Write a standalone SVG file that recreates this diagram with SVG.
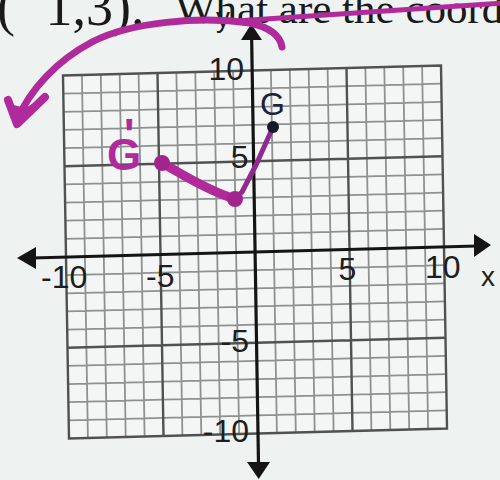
<svg xmlns="http://www.w3.org/2000/svg" width="500" height="480" viewBox="0 0 500 480">
  <style>
    .minor { fill: none; stroke: #8e9190; stroke-width: 1.8; vector-effect: non-scaling-stroke; }
    .major { fill: none; stroke: #505252; stroke-width: 2.4; vector-effect: non-scaling-stroke; }
    .axis { fill: none; stroke: #141414; stroke-width: 3.2; }
    .head { fill: #141414; }
    .num { font-family: "Liberation Sans", Arial, sans-serif; font-size: 32px; fill: #1e1e1e; }
    .var { font-family: "Liberation Sans", Arial, sans-serif; font-size: 28px; fill: #1e1e1e; }
    .ink { fill: none; stroke: #b02a9c; stroke-linecap: round; stroke-linejoin: round; }
    .serif { font-family: "Liberation Serif", "Times New Roman", serif; fill: #1a1a1a; }
  </style>
  <rect width="500" height="480" fill="#eef2f1"/>

  <g id="heading">
    <text class="serif" x="-3" y="25" font-size="54">(<tspan dy="-11">−</tspan><tspan dy="11">1,3).</tspan></text>
    <text class="serif" x="175" y="23" font-size="43">What are the coord</text>
  </g>

  <g id="grid" transform="matrix(18.9 -0.5 0.3 18.15 255 252)">
    <rect x="-10" y="-10" width="20" height="20" fill="#f3f6f5"/>
    <path class="minor" d="M-9 -10V10M-8 -10V10M-7 -10V10M-6 -10V10M-4 -10V10M-3 -10V10M-2 -10V10M-1 -10V10M1 -10V10M2 -10V10M3 -10V10M4 -10V10M6 -10V10M7 -10V10M8 -10V10M9 -10V10M-10 -9H10M-10 -8H10M-10 -7H10M-10 -6H10M-10 -4H10M-10 -3H10M-10 -2H10M-10 -1H10M-10 1H10M-10 2H10M-10 3H10M-10 4H10M-10 6H10M-10 7H10M-10 8H10M-10 9H10"/>
    <path class="major" d="M-5 -10V10M5 -10V10M-10 -5H10M-10 5H10"/>
    <rect class="major" x="-10" y="-10" width="20" height="20"/>
  </g>

  <g id="axes">
    <line class="axis" x1="251.6" y1="36" x2="258.5" y2="464"/>
    <polygon class="head" points="251.3,24 241,40 262,40"/>
    <polygon class="head" points="258.7,479 247,462 270,462"/>
    <line class="axis" x1="32" y1="258" x2="477" y2="246"/>
    <polygon class="head" points="17,258 36,247 36,269"/>
    <polygon class="head" points="491,245 474,234 474,257"/>
  </g>

  <g id="labels">
    <text class="var" x="216" y="27">y</text>
    <text class="var" x="481" y="286">x</text>
    <text class="num" x="244" y="80" text-anchor="end">10</text>
    <text class="num" x="248.5" y="168" text-anchor="end">5</text>
    <text class="num" x="249" y="352" text-anchor="end">-5</text>
    <text class="num" x="249" y="442" text-anchor="end">-10</text>
    <text class="num" x="41" y="288">-10</text>
    <text class="num" x="146" y="287">-5</text>
    <text class="num" x="338.5" y="280">5</text>
    <text class="num" x="425" y="278">10</text>
  </g>

  <g id="point-G">
    <path class="ink" style="stroke:#8f2a90" stroke-width="5" d="M273,127 L256,165 L242,192 L235,199"/>
    <circle cx="273" cy="127" r="6" fill="#151a2a"/>
    <text x="260" y="115" font-family="'Liberation Sans', Arial, sans-serif" font-size="32" fill="#1c2238">G</text>
  </g>

  <g id="point-G-prime">
    <path class="ink" stroke-width="9" d="M235,199 C215,193 195,182 176,171 L162,163"/>
    <circle cx="235" cy="199" r="8" fill="#a2258f"/>
    <circle cx="162" cy="163" r="8" fill="#a2258f"/>
    <text x="107" y="170" font-family="'Liberation Sans', Arial, sans-serif" font-size="44" font-weight="bold" fill="#b02a9c">G<tspan x="124" y="150">'</tspan></text>
  </g>

  <g id="rotation-arrow">
    <path class="ink" stroke-width="5" d="M236,21 C300,17 400,10 502,3"/>
    <path class="ink" stroke-width="7" d="M282,47 C280,35 268,27 250,23 C200,16 130,22 92,42 C56,61 30,90 17,120"/>
    <path class="ink" stroke-width="8" d="M8,100 L17,124 L45,97"/>
    <polygon points="10,104 17,124 40,100 25,108" fill="#b02a9c"/>
  </g>
</svg>
